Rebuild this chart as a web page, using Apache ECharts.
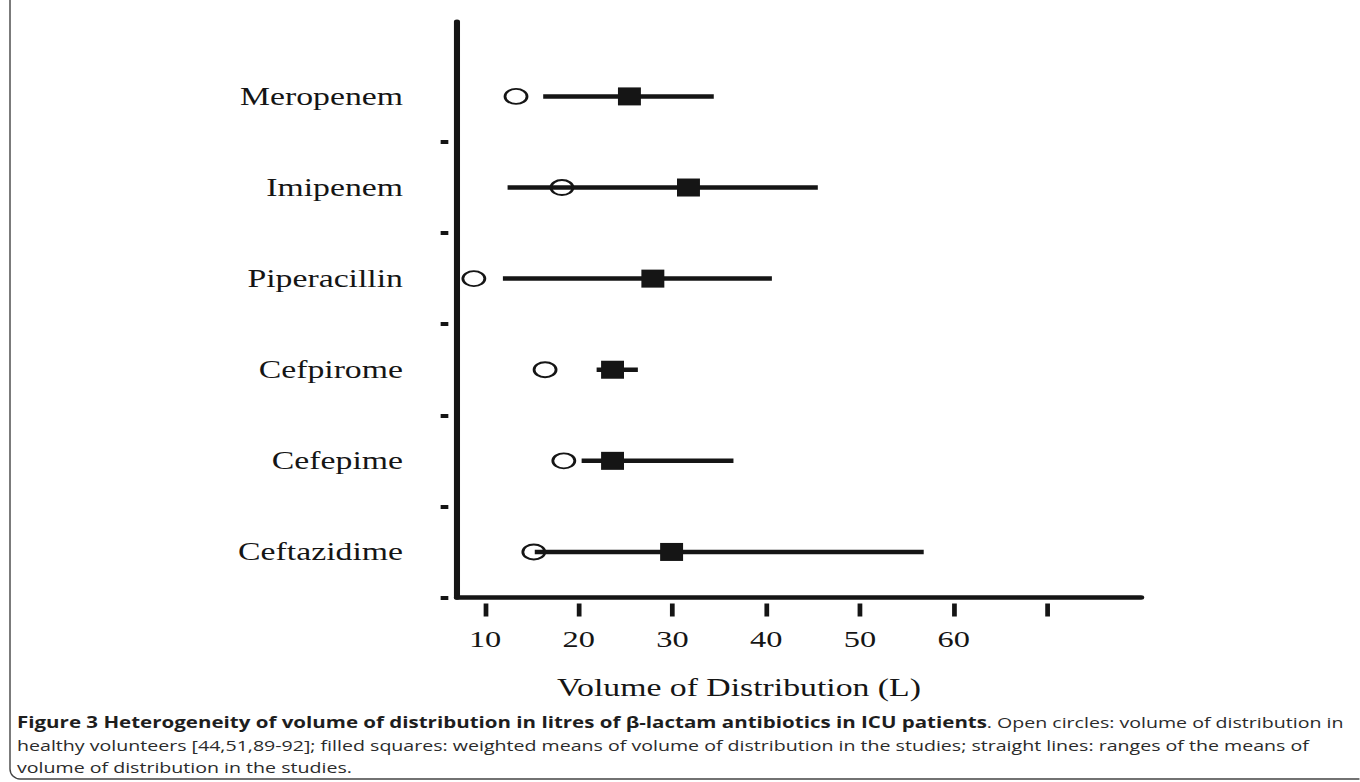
<!DOCTYPE html>
<html>
<head>
<meta charset="utf-8">
<script src="https://cdn.jsdelivr.net/npm/echarts@6/dist/echarts.min.js"></script>
<style>
  html, body { margin: 0; padding: 0; background: #fff; overflow: hidden; }
  /* the figure is laid out narrow and widened horizontally, like the printed plate */
  #chart { width: 1007.4px; height: 782px; transform: scaleX(1.35); transform-origin: 0 0; }
</style>
</head>
<body>
<div id="chart"></div>
<script>
// Antibiotics, listed from the bottom row to the top row
const categories = ['Ceftazidime', 'Cefepime', 'Cefpirome', 'Piperacillin', 'Imipenem', 'Meropenem'];
// Volume of distribution (L) in healthy volunteers (open circles)
const healthyVd = [15.2, 18.4, 16.4, 8.8, 18.2, 13.3];
// Weighted mean volume of distribution in ICU studies (filled squares)
const meanVd = [29.9, 23.6, 23.6, 27.9, 31.7, 25.4];
// Range of the study means (straight lines)
const rangeLow = [15.3, 20.3, 21.9, 11.9, 12.4, 16.2];
const rangeHigh = [56.8, 36.5, 26.3, 40.6, 45.5, 34.4];
// Axis ticks and labels
const xTickValues = [10, 20, 30, 40, 50, 60, 70];
const xLabelValues = [10, 20, 30, 40, 50, 60];
const yTickValues = [0, 1, 2, 3, 4, 5];

const STRETCH = 1.35;          // horizontal widening of the whole plate
const CAPTION_STRETCH = 1.315; // the caption block is widened a little less
const INK = '#151515';
const SERIF = '"Liberation Serif", "Times New Roman", serif';

const rowOf = i => i + 0.5;

const chart = echarts.init(document.getElementById('chart'), null, { renderer: 'svg' });

const captionRich = {
  b: { fontFamily: '"Open Sans", sans-serif', fontWeight: 'bold', fontSize: 15.6, lineHeight: 22.5, fill: '#1e1e1e' },
  r: { fontFamily: '"Open Sans", sans-serif', fontWeight: 'normal', fontSize: 14.9, lineHeight: 22.5, fill: '#2b2b2b' }
};

chart.setOption({
  animation: false,
  grid: { left: 338.5, right: 161.7, top: 21.7, bottom: 184.5, containLabel: false, outerBoundsMode: 'none' },
  xAxis: {
    type: 'value', min: 7, max: 80,
    axisLine: { show: true, onZero: false, lineStyle: { color: INK, width: 4.5 } },
    axisTick: { show: true, customValues: xTickValues, length: 19,
      lineStyle: { color: INK, width: 3.5, type: [0, 6, 13, 100] } },
    axisLabel: { customValues: xLabelValues, margin: 29, fontFamily: SERIF, fontSize: 24, color: INK },
    splitLine: { show: false },
    name: 'Volume of Distribution (L)', nameLocation: 'middle', nameGap: 78,
    nameTextStyle: { fontFamily: SERIF, fontSize: 25, color: INK, padding: [0, 89, 0, 0] }
  },
  yAxis: {
    type: 'value', min: 0, max: 6.32,
    axisLine: { show: true, onZero: false, lineStyle: { color: INK, width: 4.5 } },
    axisTick: { show: true, customValues: yTickValues, length: 12.1,
      lineStyle: { color: INK, width: 4, type: [0, 6.4, 5.7, 100] } },
    axisLabel: {
      customValues: categories.map((c, i) => rowOf(i)),
      formatter: v => categories[Math.floor(v)],
      margin: 40, fontFamily: SERIF, fontSize: 25, color: INK
    },
    splitLine: { show: false }
  },
  series: [
    {
      type: 'custom', z: 2,
      data: rangeLow.map((lo, i) => [lo, rangeHigh[i], rowOf(i)]),
      encode: { x: [0, 1], y: 2 },
      renderItem: (params, api) => {
        const y = api.value(2);
        const a = api.coord([api.value(0), y]);
        const b = api.coord([api.value(1), y]);
        return { type: 'line', shape: { x1: a[0], y1: a[1], x2: b[0], y2: b[1] },
          style: { stroke: INK, lineWidth: 4.5, lineCap: 'butt' } };
      }
    },
    {
      type: 'scatter', z: 3,
      data: healthyVd.map((v, i) => [v, rowOf(i)]),
      symbol: 'path://M0,1A1,1 0 1,1 2,1A1,1 0 1,1 0,1Z',
      symbolSize: [16.3, 15],
      itemStyle: { color: 'rgba(255,255,255,0)', borderColor: INK, borderWidth: 2, opacity: 1 }
    },
    {
      type: 'scatter', z: 4,
      data: meanVd.map((v, i) => [v, rowOf(i)]),
      symbol: 'rect', symbolSize: [17, 18],
      itemStyle: { color: INK, opacity: 1 }
    }
  ],
  graphic: [
    {
      type: 'group', x: 0, y: 0, scaleX: 1 / STRETCH, silent: true,
      children: [
        { type: 'rect', shape: { x: 10, y: -30, width: 1400, height: 809, r: 10 },
          style: { fill: 'none', stroke: '#444', lineWidth: 1.4 } }
      ]
    },
    {
      type: 'group', x: 17 / STRETCH, y: 0, scaleX: CAPTION_STRETCH / STRETCH, silent: true,
      children: [
        { type: 'text', x: 0, y: 711,
          style: {
            text: '{b|Figure 3 Heterogeneity of volume of distribution in litres of \u03b2-lactam antibiotics in ICU patients}{r|. Open circles: volume of distribution in}\n' +
                  '{r|healthy volunteers [44,51,89-92]; filled squares: weighted means of volume of distribution in the studies; straight lines: ranges of the means of}\n' +
                  '{r|volume of distribution in the studies.}',
            rich: captionRich, verticalAlign: 'top', align: 'left'
          } }
      ]
    }
  ]
});
</script>
</body>
</html>
